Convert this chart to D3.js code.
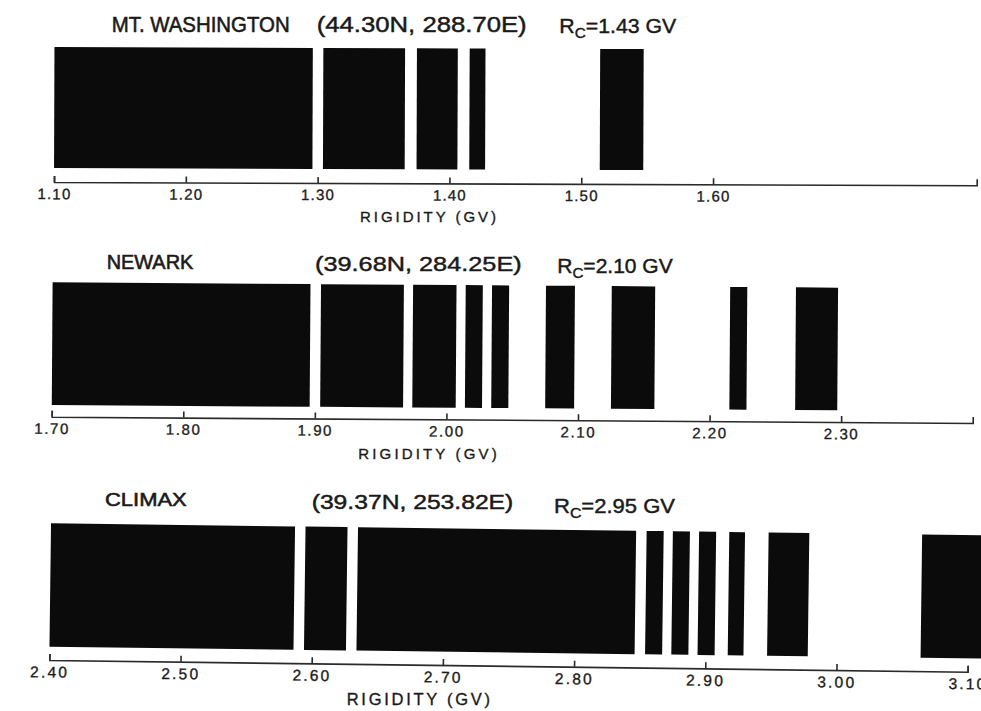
<!DOCTYPE html>
<html>
<head>
<meta charset="utf-8">
<script src="https://cdn.jsdelivr.net/npm/d3@7"></script>
<style>
  html, body { margin: 0; padding: 0; background: #ffffff; }
  svg { display: block; }
  text { font-family: "Liberation Sans", Arial, sans-serif; fill: #1a1a1a; }
</style>
</head>
<body>
<svg id="chart" width="981" height="711"></svg>
<script>
// ---------------- DATA ----------------
const stationNames = ["MT. WASHINGTON", "NEWARK", "CLIMAX"];
const stationCoords = ["(44.30N, 288.70E)", "(39.68N, 284.25E)", "(39.37N, 253.82E)"];
const cutoffRigidity = ["1.43", "2.10", "2.95"];

// allowed rigidity bands [start, end] in GV
const mtWashingtonBands = [[1.100, 1.296], [1.304, 1.366], [1.375, 1.406], [1.415, 1.427], [1.514, 1.547]];
const newarkBands = [[1.700, 1.896], [1.904, 1.967], [1.974, 2.007], [2.014, 2.027], [2.034, 2.047],
                     [2.075, 2.097], [2.125, 2.158], [2.215, 2.228], [2.265, 2.297]];
const climaxBands = [[2.400, 2.586], [2.594, 2.626], [2.634, 2.846], [2.854, 2.867], [2.874, 2.887],
                     [2.894, 2.907], [2.917, 2.929], [2.947, 2.978], [3.064, 3.115]];

const mtWashingtonDomain = [1.10, 1.80];
const newarkDomain = [1.70, 2.40];
const climaxDomain = [2.40, 3.10];

const mtWashingtonTicks = [1.10, 1.20, 1.30, 1.40, 1.50, 1.60];
const newarkTicks = [1.70, 1.80, 1.90, 2.00, 2.10, 2.20, 2.30];
const climaxTicks = [2.40, 2.50, 2.60, 2.70, 2.80, 2.90, 3.00, 3.10];

const axisLabel = "RIGIDITY (GV)";

// ---------------- LAYOUT ----------------
const layout = [
  { bands: mtWashingtonBands, domain: mtWashingtonDomain, ticks: mtWashingtonTicks,
    x0: 54, x1: 976.7, axisY: 182, angle: 0.2, barTop: -135, barBottom: -14,
    tickFs: 15, tickLs: 1.2,
    title: { x: 111.7, w: 178, y: 31.7, fs: 21.5 },
    coords: { x: 316.7, w: 210, y: 31.7, fs: 21.5 },
    rc: { x: 559.3, w: 117, y: 33.3, fs: 21 },
    xlab: { x: 360, w: 136, y: 221.5, fs: 15 } },
  { bands: newarkBands, domain: newarkDomain, ticks: newarkTicks,
    x0: 51.7, x1: 972.7, axisY: 416.7, angle: 0.39, barTop: -134.4, barBottom: -11.7,
    tickFs: 15, tickLs: 1.6,
    title: { x: 106.7, w: 86.6, y: 269.3, fs: 19.5 },
    coords: { x: 315, w: 206.7, y: 271, fs: 21 },
    rc: { x: 557.3, w: 115.4, y: 273.3, fs: 20.5 },
    xlab: { x: 358.3, w: 138.4, y: 458.5, fs: 15 } },
  { bands: climaxBands, domain: climaxDomain, ticks: climaxTicks,
    x0: 49.3, x1: 967.7, axisY: 660, angle: 0.73, barTop: -136.7, barBottom: -13.3,
    tickFs: 15.5, tickLs: 2.2,
    title: { x: 105, w: 81.7, y: 506, fs: 18 },
    coords: { x: 311.7, w: 201.6, y: 509.3, fs: 20 },
    rc: { x: 554, w: 121, y: 513.3, fs: 21 },
    xlab: { x: 346.7, w: 143.3, y: 705, fs: 16.5 } }
];

const svg = d3.select("#chart");
const fmt = d3.format(".2f");
const ink = "#1a1a1a";

layout.forEach((p, i) => {
  const x = d3.scaleLinear().domain(p.domain).range([p.x0, p.x1]);

  const g = svg.append("g")
    .attr("transform", `translate(0,${p.axisY}) rotate(${p.angle},${p.x0},0)`);

  // bars
  g.selectAll("rect.band")
    .data(p.bands)
    .join("rect")
    .attr("class", "band")
    .attr("x", d => x(d[0]))
    .attr("width", d => x(d[1]) - x(d[0]))
    .attr("y", p.barTop)
    .attr("height", p.barBottom - p.barTop)
    .attr("fill", "#0b0b0b");

  // axis
  const axis = d3.axisBottom(x)
    .tickValues(p.ticks)
    .tickFormat(fmt)
    .tickSizeInner(-6)
    .tickSizeOuter(-6)
    .tickPadding(6.5);

  const ag = g.append("g").call(axis);
  ag.select(".domain").attr("stroke", "#2a2a2a").attr("stroke-width", 1.6);
  ag.selectAll(".tick line").attr("stroke", "#2a2a2a").attr("stroke-width", 1.6);
  ag.selectAll(".tick text")
    .attr("fill", "#1e1e1e")
    .attr("stroke", "#1e1e1e")
    .attr("stroke-width", 0.35)
    .style("font-family", "'Liberation Sans', Arial, sans-serif")
    .style("font-size", p.tickFs + "px")
    .attr("letter-spacing", p.tickLs + "px");

  // titles
  const t = p.title;
  svg.append("text")
    .attr("x", t.x).attr("y", t.y)
    .attr("textLength", t.w).attr("lengthAdjust", "spacingAndGlyphs")
    .attr("stroke", ink).attr("stroke-width", 0.55)
    .style("font-size", t.fs + "px")
    .text(stationNames[i]);

  const c = p.coords;
  svg.append("text")
    .attr("x", c.x).attr("y", c.y)
    .attr("textLength", c.w).attr("lengthAdjust", "spacingAndGlyphs")
    .attr("stroke", ink).attr("stroke-width", 0.45)
    .style("font-size", c.fs + "px")
    .text(stationCoords[i]);

  const r = p.rc;
  const rt = svg.append("text")
    .attr("x", r.x).attr("y", r.y)
    .attr("textLength", r.w).attr("lengthAdjust", "spacingAndGlyphs")
    .attr("stroke", ink).attr("stroke-width", 0.45)
    .style("font-size", r.fs + "px");
  rt.append("tspan").text("R");
  rt.append("tspan").attr("dy", 5).style("font-size", (r.fs * 0.72) + "px").text("C");
  rt.append("tspan").attr("dy", -5).text("=" + cutoffRigidity[i] + " GV");

  const xl = p.xlab;
  svg.append("text")
    .attr("x", xl.x).attr("y", xl.y)
    .attr("textLength", xl.w).attr("lengthAdjust", "spacing")
    .attr("stroke", ink).attr("stroke-width", 0.35)
    .style("font-size", xl.fs + "px")
    .text(axisLabel);
});
</script>
</body>
</html>
